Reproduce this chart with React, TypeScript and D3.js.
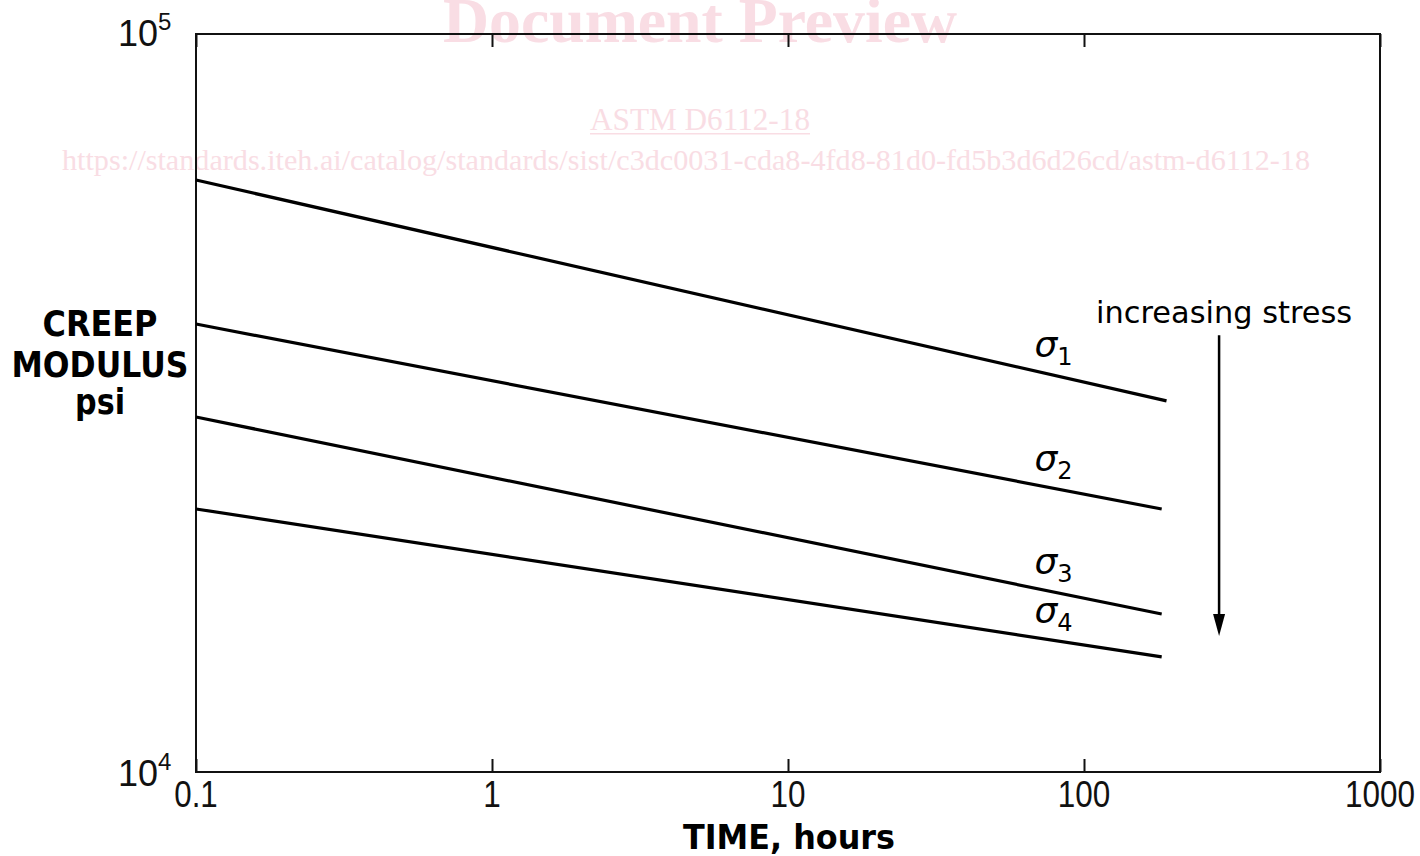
import * as d3 from 'd3';
import { useEffect, useRef } from 'react';

const WIDTH = 1420;
const HEIGHT = 856;
const MARGIN = { top: 34, right: 40, bottom: 84, left: 196 };

// axes
const TIME_DOMAIN: [number, number] = [0.1, 1000];
const MODULUS_DOMAIN: [number, number] = [1e4, 1e5];
const TIME_TICKS = [0.1, 1, 10, 100, 1000];
const TIME_TICK_LABELS = ['0.1', '1', '10', '100', '1000'];
const MODULUS_TICKS = [1e4, 1e5];
const MODULUS_TICK_EXPONENTS = ['4', '5'];

// series: straight lines on log-log, start and end
const SERIES_NAMES = ['1', '2', '3', '4'];
const START_TIMES = [0.1, 0.1, 0.1, 0.1];
const END_TIMES = [190, 183, 183, 183];
const START_MODULUS = [63400, 40460, 30270, 22720];
const END_MODULUS = [31830, 22720, 16370, 14320];

// annotation
const LABEL_TIME = 68;
const ARROW_TIME = 286;
const ARROW_FROM = 39080;
const ARROW_TO = 15280;
const ARROW_TEXT = 'increasing stress';

const X_LABEL = 'TIME, hours';
const Y_LABEL_LINES = ['CREEP', 'MODULUS', 'psi'];

const WATERMARK_TITLE = 'Document Preview';
const WATERMARK_CODE = 'ASTM D6112-18';
const WATERMARK_URL =
    'https://standards.iteh.ai/catalog/standards/sist/c3dc0031-cda8-4fd8-81d0-fd5b3d6d26cd/astm-d6112-18';

const SANS = "'DejaVu Sans', Verdana, sans-serif";
const NARROW = "'Liberation Sans Narrow', 'Arial Narrow', 'Liberation Sans', sans-serif";
const SERIF = "'Liberation Serif', 'Times New Roman', serif";
const PINK = '#f9dde4';

// width of a narrow-font numeric label
const narrowWidth = (s: string) => s.split('').reduce((w, c) => w + (c === '.' ? 8.5 : 17.5), 0);

const App = () => {
    const svgRef = useRef<SVGSVGElement>(null);

    useEffect(() => {
        if (!svgRef.current) return;
        const innerWidth = WIDTH - MARGIN.left - MARGIN.right;
        const innerHeight = HEIGHT - MARGIN.top - MARGIN.bottom;
        const x = d3.scaleLog().domain(TIME_DOMAIN).range([MARGIN.left, MARGIN.left + innerWidth]);
        const y = d3.scaleLog().domain(MODULUS_DOMAIN).range([MARGIN.top + innerHeight, MARGIN.top]);

        const svg = d3.select(svgRef.current);
        svg.selectAll('*').remove();
        svg.append('rect').attr('width', WIDTH).attr('height', HEIGHT).attr('fill', '#fff');

        // watermark (behind chart)
        const wm = svg.append('g').attr('fill', PINK).attr('font-family', SERIF).attr('text-anchor', 'middle');
        wm.append('text')
            .attr('x', 700)
            .attr('y', 42)
            .attr('font-size', 63)
            .attr('font-weight', 'bold')
            .attr('textLength', 514)
            .attr('lengthAdjust', 'spacingAndGlyphs')
            .text(WATERMARK_TITLE);
        wm.append('text')
            .attr('x', 700)
            .attr('y', 130)
            .attr('font-size', 31)
            .attr('textLength', 220)
            .attr('lengthAdjust', 'spacingAndGlyphs')
            .text(WATERMARK_CODE);
        wm.append('rect').attr('x', 590).attr('y', 133).attr('width', 220).attr('height', 1.5);
        wm.append('text')
            .attr('x', 686)
            .attr('y', 170)
            .attr('font-size', 30)
            .attr('textLength', 1248)
            .attr('lengthAdjust', 'spacingAndGlyphs')
            .text(WATERMARK_URL);

        // frame
        svg.append('rect')
            .attr('x', MARGIN.left)
            .attr('y', MARGIN.top)
            .attr('width', innerWidth)
            .attr('height', innerHeight)
            .attr('fill', 'none')
            .attr('stroke', '#111')
            .attr('stroke-width', 2);

        // inward ticks top and bottom
        svg.append('g')
            .attr('transform', `translate(0,${MARGIN.top + innerHeight})`)
            .call(d3.axisTop(x).tickValues(TIME_TICKS).tickSize(13).tickFormat(() => ''))
            .call((g) => g.select('.domain').remove())
            .call((g) => g.selectAll('line').attr('stroke', '#111').attr('stroke-width', 2));
        svg.append('g')
            .attr('transform', `translate(0,${MARGIN.top})`)
            .call(d3.axisBottom(x).tickValues(TIME_TICKS).tickSize(13).tickFormat(() => ''))
            .call((g) => g.select('.domain').remove())
            .call((g) => g.selectAll('line').attr('stroke', '#111').attr('stroke-width', 2));

        // x tick labels
        svg.append('g')
            .selectAll('text')
            .data(TIME_TICKS)
            .join('text')
            .attr('x', (d) => x(d))
            .attr('y', MARGIN.top + innerHeight + 35)
            .attr('text-anchor', 'middle')
            .attr('font-family', NARROW)
            .attr('font-size', 37)
            .attr('textLength', (_d, i) => narrowWidth(TIME_TICK_LABELS[i]))
            .attr('lengthAdjust', 'spacingAndGlyphs')
            .attr('fill', '#111')
            .text((_d, i) => TIME_TICK_LABELS[i]);

        // y tick labels 10^n
        const yt = svg
            .append('g')
            .selectAll('text')
            .data(MODULUS_TICKS)
            .join('text')
            .attr('x', MARGIN.left - 78)
            .attr('y', (_d, i) => y(MODULUS_TICKS[i]) + (i === 0 ? 14 : 12))
            .attr('font-family', NARROW)
            .attr('font-size', 36)
            .attr('fill', '#111');
        yt.append('tspan').text('10');
        yt.append('tspan')
            .attr('dy', -16)
            .attr('font-size', 24)
            .text((_d, i) => MODULUS_TICK_EXPONENTS[i]);

        // creep lines
        svg.append('g')
            .selectAll('line')
            .data(SERIES_NAMES)
            .join('line')
            .attr('x1', (_d, i) => x(START_TIMES[i]))
            .attr('y1', (_d, i) => y(START_MODULUS[i]))
            .attr('x2', (_d, i) => x(END_TIMES[i]))
            .attr('y2', (_d, i) => y(END_MODULUS[i]))
            .attr('stroke', '#000')
            .attr('stroke-width', 3.2);

        // sigma labels
        const onLine = (i: number, t: number) => {
            const f =
                (Math.log10(t) - Math.log10(START_TIMES[i])) / (Math.log10(END_TIMES[i]) - Math.log10(START_TIMES[i]));
            return Math.pow(
                10,
                Math.log10(START_MODULUS[i]) + f * (Math.log10(END_MODULUS[i]) - Math.log10(START_MODULUS[i]))
            );
        };
        const sl = svg
            .append('g')
            .selectAll('text')
            .data(SERIES_NAMES)
            .join('text')
            .attr('x', x(LABEL_TIME))
            .attr('y', (_d, i) => y(onLine(i, LABEL_TIME)) - 14)
            .attr('font-family', SANS)
            .attr('fill', '#000');
        sl.append('tspan').attr('font-size', 36).attr('font-style', 'italic').text('σ');
        sl.append('tspan')
            .attr('dy', 8)
            .attr('font-size', 24)
            .text((d) => d);

        // increasing stress arrow
        const ax = x(ARROW_TIME);
        const ay1 = y(ARROW_FROM);
        const ay2 = y(ARROW_TO);
        svg.append('line')
            .attr('x1', ax)
            .attr('x2', ax)
            .attr('y1', ay1)
            .attr('y2', ay2 - 18)
            .attr('stroke', '#000')
            .attr('stroke-width', 2.5);
        svg.append('path')
            .attr('d', `M${ax - 6},${ay2 - 22}L${ax + 6},${ay2 - 22}L${ax},${ay2}Z`)
            .attr('fill', '#000');
        svg.append('text')
            .attr('x', ax + 5)
            .attr('y', ay1 - 12)
            .attr('text-anchor', 'middle')
            .attr('font-family', SANS)
            .attr('font-size', 30)
            .attr('textLength', 256)
            .attr('lengthAdjust', 'spacingAndGlyphs')
            .attr('fill', '#000')
            .text(ARROW_TEXT);

        // axis titles
        svg.append('text')
            .attr('x', 789)
            .attr('y', 849)
            .attr('text-anchor', 'middle')
            .attr('font-family', SANS)
            .attr('font-weight', 'bold')
            .attr('font-size', 34)
            .attr('textLength', 212)
            .attr('lengthAdjust', 'spacingAndGlyphs')
            .attr('fill', '#000')
            .text(X_LABEL);

        const yLabelBaselines = [336, 377, 414];
        const yLabelWidths = [115, 177, 50];
        svg.append('g')
            .selectAll('text')
            .data(Y_LABEL_LINES)
            .join('text')
            .attr('x', 100)
            .attr('y', (_d, i) => yLabelBaselines[i])
            .attr('text-anchor', 'middle')
            .attr('font-family', SANS)
            .attr('font-weight', 'bold')
            .attr('font-size', 35)
            .attr('textLength', (_d, i) => yLabelWidths[i])
            .attr('lengthAdjust', 'spacingAndGlyphs')
            .attr('fill', '#000')
            .text((d) => d);
    }, []);

    return (
        <div style={{ position: 'absolute', top: 0, left: 0 }}>
            <svg ref={svgRef} width={WIDTH} height={HEIGHT}></svg>
        </div>
    );
};

export default App;
